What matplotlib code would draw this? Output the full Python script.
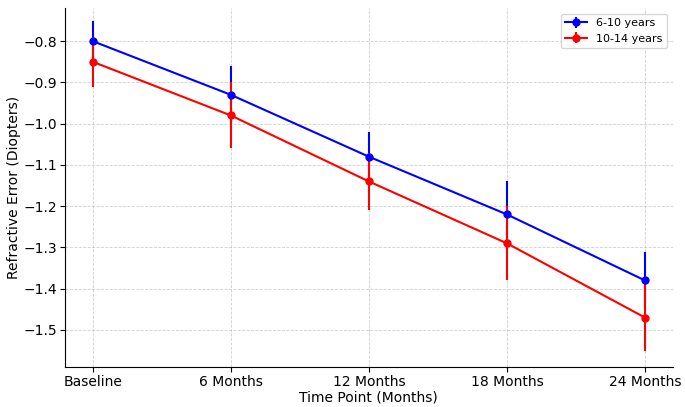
import matplotlib
matplotlib.use("Agg")
import matplotlib.pyplot as plt

time_points = ["Baseline", "6 Months", "12 Months", "18 Months", "24 Months"]
young_mean = [-0.80, -0.93, -1.08, -1.22, -1.38]
young_err = [0.05, 0.07, 0.06, 0.08, 0.07]
old_mean = [-0.85, -0.98, -1.14, -1.29, -1.47]
old_err = [0.06, 0.08, 0.07, 0.09, 0.08]

fig = plt.figure(figsize=(6.85, 4.07), dpi=100)
ax = fig.add_axes([0.095, 0.098, 0.887, 0.882])
x = range(len(time_points))
ax.errorbar(x, young_mean, yerr=young_err, color="blue", marker="o", markersize=5, label="6-10 years")
ax.errorbar(x, old_mean, yerr=old_err, color="red", marker="o", markersize=5, label="10-14 years")
ax.set_xticks(list(x))
ax.set_xticklabels(time_points, fontsize=10)
ax.tick_params(labelsize=10, pad=2)
ax.set_xlabel("Time Point (Months)", fontsize=10, labelpad=1)
ax.set_ylabel("Refractive Error (Diopters)", fontsize=10, labelpad=2)
ax.set_ylim(-1.59, -0.72)
ax.grid(True, linestyle="--", linewidth=0.6, alpha=0.6)
ax.spines["top"].set_visible(False)
ax.spines["right"].set_visible(False)
ax.legend(loc="upper right", fontsize=8)
fig.savefig("out.png")
